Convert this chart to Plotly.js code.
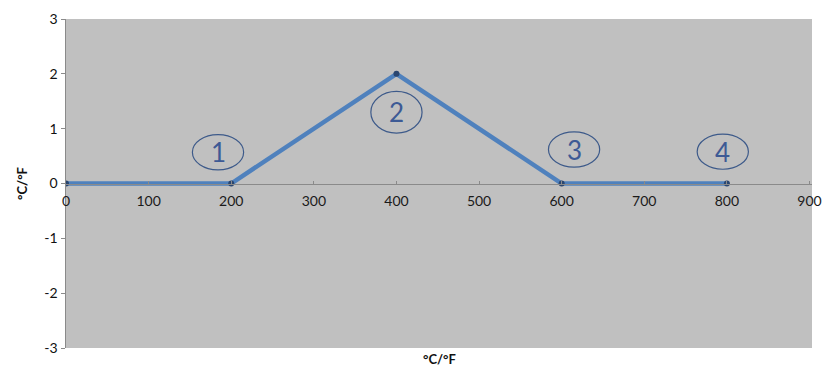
<!DOCTYPE html>
<html><head><meta charset="utf-8">
<script src="https://cdn.plot.ly/plotly-3.0.1.min.js"></script>
<style>html,body{margin:0;padding:0;background:#fff}</style>
</head><body>
<div id="chart" style="width:822px;height:370px"></div>
<script>
const xValues = [0, 200, 400, 600, 800];
const yValues = [0, 0, 2, 0, 0];
const labels = ["1", "2", "3", "4"];
const yTickVals = [-3, -2, -1, 0, 1, 2, 3];
const yTickText = ["-3", "-2", "-1", "0", "1", "2", "3"];
const axisTitle = "°C/°F";

const font = "Lato, 'Open Sans', sans-serif";
const trace = {
  x: xValues, y: yValues, type: "scatter", mode: "lines+markers",
  line: {color: "#4f81bd", width: 4.5},
  marker: {color: "#2a4670", size: 6},
  hoverinfo: "skip", showlegend: false
};
const shapes = [];
const annotations = [];
const cxs = [184, 400, 615, 795];
const cys = [0.57, 1.3, 0.62, 0.58];
for (let i = 0; i < labels.length; i++) {
  const cx = cxs[i], cy = cys[i];
  const hw = 31, hh = i === 1 ? 0.38 : 0.32;
  shapes.push({type: "circle", xref: "x", yref: "y", x0: cx - hw, x1: cx + hw, y0: cy - hh, y1: cy + hh,
    line: {color: "#3d5a8a", width: 1.2}, fillcolor: "rgba(0,0,0,0)"});
  annotations.push({x: cx, y: cy, xref: "x", yref: "y", text: labels[i], showarrow: false,
    font: {family: font, size: 26, color: "#3d5a95"}});
}
annotations.push({x: 0.5, y: -0.005, xref: "paper", yref: "paper", yanchor: "top", text: "<b>" + axisTitle + "</b>",
  showarrow: false, borderpad: 0, font: {family: font, size: 13, color: "#111"}});
const layout = {
  width: 822, height: 370,
  margin: {l: 66, r: 10, t: 19, b: 22},
  paper_bgcolor: "#ffffff", plot_bgcolor: "#c0c0c0",
  font: {family: font, size: 14, color: "#222"},
  xaxis: {range: [0, 903], dtick: 100, tick0: 0, anchor: "free", position: 0.5,
    showline: true, linecolor: "#8a8a8a", linewidth: 1, ticks: "inside", ticklen: 3, tickcolor: "#8a8a8a",
    showgrid: false, zeroline: false, ticklabelstandoff: 5, tickfont: {family: font, size: 14, color: "#1a1a1a"}},
  yaxis: {range: [-3, 3], tickmode: "array", tickvals: yTickVals, ticktext: yTickText,
    showline: true, linecolor: "#8a8a8a", linewidth: 1.5,
    ticks: "outside", ticklen: 4, tickcolor: "#8a8a8a", showgrid: false, zeroline: false,
    tickfont: {family: font, size: 14, color: "#111"},
    title: {text: "<b>" + axisTitle + "</b>", standoff: 14, font: {family: font, size: 13, color: "#111"}}},
  shapes: shapes, annotations: annotations
};
Plotly.newPlot("chart", [trace], layout, {displayModeBar: false, staticPlot: true});
</script>
</body></html>
